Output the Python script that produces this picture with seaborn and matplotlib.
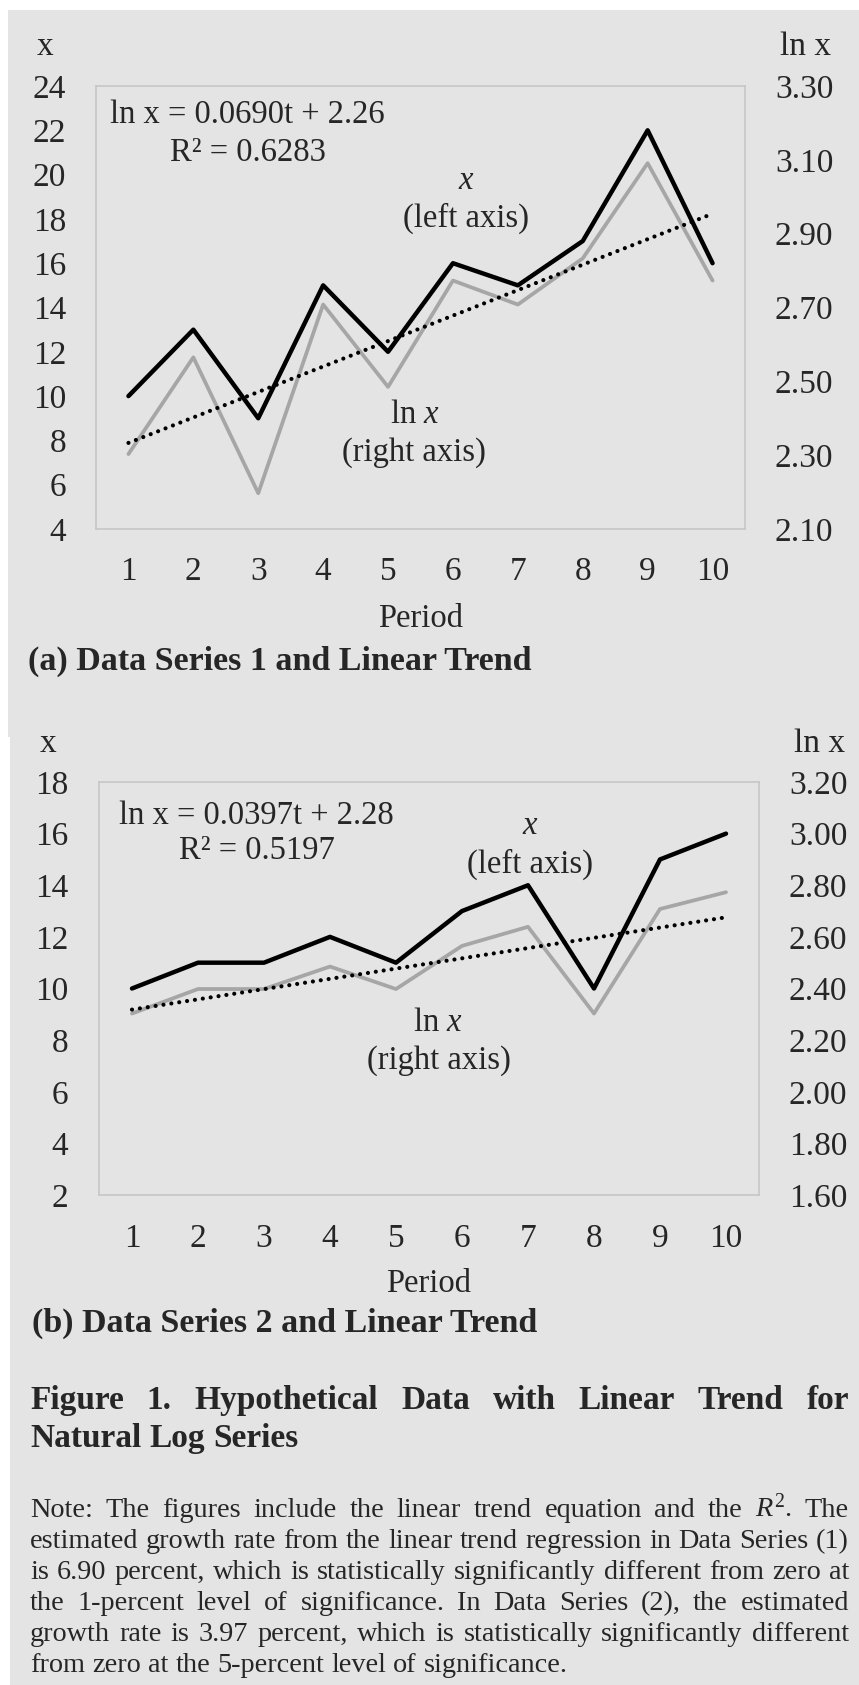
import matplotlib
matplotlib.use("Agg")
import matplotlib.pyplot as plt
import seaborn as sns
import numpy as np
import pandas as pd
from matplotlib.patches import Rectangle

# ---------------- data ----------------
periods = [1, 2, 3, 4, 5, 6, 7, 8, 9, 10]

x_series1 = [10, 13, 9, 15, 12, 16, 15, 17, 22, 16]
lnx_series1 = [2.303, 2.565, 2.197, 2.708, 2.485, 2.773, 2.708, 2.833, 3.091, 2.773]

x_series2 = [10, 11, 11, 12, 11, 13, 14, 10, 15, 16]
lnx_series2 = [2.303, 2.398, 2.398, 2.485, 2.398, 2.565, 2.639, 2.303, 2.708, 2.773]

left_ticks_a = [4, 6, 8, 10, 12, 14, 16, 18, 20, 22, 24]
right_ticks_a = [2.10, 2.30, 2.50, 2.70, 2.90, 3.10, 3.30]
left_ticks_b = [2, 4, 6, 8, 10, 12, 14, 16, 18]
right_ticks_b = [1.60, 1.80, 2.00, 2.20, 2.40, 2.60, 2.80, 3.00, 3.20]

eq_a = ["ln x = 0.0690t + 2.26", "R\u00b2 = 0.6283"]
eq_b = ["ln x = 0.0397t + 2.28", "R\u00b2 = 0.5197"]

title_a = "(a) Data Series 1 and Linear Trend"
title_b = "(b) Data Series 2 and Linear Trend"
fig_title = ["Figure 1. Hypothetical Data with Linear Trend for", "Natural Log Series"]
note_lines = [
    "Note: The figures include the linear trend equation and the $R^2$. The",
    "estimated growth rate from the linear trend regression in Data Series (1)",
    "is 6.90 percent, which is statistically significantly different from zero at",
    "the 1-percent level of significance. In Data Series (2), the estimated",
    "growth rate is 3.97 percent, which is statistically significantly different",
    "from zero at the 5-percent level of significance.",
]

# ---------------- style ----------------
sns.set_style("white")
FONT = "Liberation Serif"
plt.rcParams["font.family"] = [FONT, "DejaVu Serif"]
plt.rcParams["mathtext.fontset"] = "custom"
plt.rcParams["mathtext.rm"] = FONT
plt.rcParams["mathtext.it"] = FONT + ":italic"
plt.rcParams["mathtext.bf"] = FONT + ":bold"

BG = "#e4e4e4"
GREY = "#a6a6a6"
SPINE = "#c6c6c6"
TICK = 24
LBL = 23.5

W, H = 859, 1685
fig = plt.figure(figsize=(W / 100, H / 100), dpi=100, facecolor=BG)

# white margins
fig.patches.append(Rectangle((0, 1 - 10 / H), 1, 10 / H, transform=fig.transFigure,
                             facecolor="white", edgecolor="none", zorder=-5))
fig.patches.append(Rectangle((0, 1 - 737 / H), 8 / W, 737 / H, transform=fig.transFigure,
                             facecolor="white", edgecolor="none", zorder=-5))
fig.patches.append(Rectangle((0, 0), 10 / W, 1 - 737 / H, transform=fig.transFigure,
                             facecolor="white", edgecolor="none", zorder=-5))


def T(x, y, s, **kw):
    return fig.text(x / W, 1 - y / H, s, **kw)


def add_axes_px(l, t, r, b):
    return fig.add_axes([l / W, 1 - b / H, (r - l) / W, (b - t) / H])


def panel(box, xv, lnv, lylim, lticks, rylim, rticks, pad_l, pad_r, pad_x):
    ax = add_axes_px(*box)
    ax.set_facecolor(BG)
    df = pd.DataFrame({"Period": periods, "x": xv, "lnx": lnv})
    sns.lineplot(data=df, x="Period", y="x", ax=ax, color="black", lw=3.2)
    ax2 = ax.twinx()
    sns.lineplot(data=df, x="Period", y="lnx", ax=ax2, color=GREY, lw=2.7)
    sns.regplot(data=df, x="Period", y="lnx", ax=ax2, scatter=False, ci=None, truncate=True,
                line_kws=dict(color="black", lw=3.0, linestyle=(0, (0.01, 1.9)),
                              dash_capstyle="round"))
    ax.set_xlim(0.5, 10.5)
    ax.set_ylim(*lylim)
    ax2.set_ylim(*rylim)
    ax.set_xticks(periods)
    ax.set_xticklabels([str(p) for p in periods])
    ax.set_yticks(lticks)
    ax.set_yticklabels([str(v) for v in lticks])
    ax2.set_yticks(rticks)
    ax2.set_yticklabels([f"{v:.2f}" for v in rticks])
    ax.tick_params(axis="y", length=0, pad=pad_l, labelsize=TICK)
    ax.tick_params(axis="x", length=0, pad=pad_x, labelsize=TICK)
    ax2.tick_params(axis="y", length=0, pad=pad_r, labelsize=TICK)
    for a in (ax, ax2):
        a.set_xlabel("")
        a.set_ylabel("")
        a.grid(False)
    for s in ax.spines.values():
        s.set_color(SPINE)
        s.set_linewidth(1.2)
    for s in ax2.spines.values():
        s.set_visible(False)
    return ax, ax2


panel((96, 86, 745, 529), x_series1, lnx_series1, (4, 24), left_ticks_a,
      (2.10, 3.30), right_ticks_a, 21.5, 21.5, 20)
panel((99, 782, 759, 1195), x_series2, lnx_series2, (2, 18), left_ticks_b,
      (1.60, 3.20), right_ticks_b, 22, 21.5, 20.5)

# ---------------- panel texts ----------------
# panel a
T(45, 47, "x", fontsize=TICK, ha="center", va="center")
T(806, 47, "ln x", fontsize=TICK, ha="center", va="center")
T(110, 115, eq_a[0], fontsize=LBL, ha="left", va="center")
T(248, 153, eq_a[1], fontsize=LBL, ha="center", va="center")
T(466, 181, "$x$", fontsize=LBL, ha="center", va="center")
T(466, 218, "(left axis)", fontsize=LBL, ha="center", va="center")
T(415, 415, "ln $x$", fontsize=LBL, ha="center", va="center")
T(414, 453, "(right axis)", fontsize=LBL, ha="center", va="center")
T(421, 619, "Period", fontsize=LBL, ha="center", va="center")
T(28, 670, title_a, fontsize=24.5, fontweight="bold", ha="left", va="baseline")

# panel b
T(48, 744, "x", fontsize=TICK, ha="center", va="center")
T(820, 744, "ln x", fontsize=TICK, ha="center", va="center")
T(119, 816, eq_b[0], fontsize=LBL, ha="left", va="center")
T(257, 851, eq_b[1], fontsize=LBL, ha="center", va="center")
T(530, 826, "$x$", fontsize=LBL, ha="center", va="center")
T(530, 864, "(left axis)", fontsize=LBL, ha="center", va="center")
T(438, 1023, "ln $x$", fontsize=LBL, ha="center", va="center")
T(439, 1061, "(right axis)", fontsize=LBL, ha="center", va="center")
T(429, 1284, "Period", fontsize=LBL, ha="center", va="center")
T(32, 1332, title_b, fontsize=24.5, fontweight="bold", ha="left", va="baseline")

# ---------------- justified text ----------------
renderer = fig.canvas.get_renderer()
X0, X1 = 30, 849


def natural_width(s, size, weight="normal"):
    t = T(0, 0, s, fontsize=size, fontweight=weight)
    w = t.get_window_extent(renderer).width
    t.remove()
    return w


def justify(line, y_base, size, weight="normal", last=False):
    words = line.split(" ")
    texts = [T(0, y_base, w, fontsize=size, fontweight=weight, ha="left", va="baseline")
             for w in words]
    widths = [t.get_window_extent(renderer).width for t in texts]
    if last or len(words) == 1:
        gap = natural_width("a b", size, weight) - natural_width("ab", size, weight)
    else:
        gap = (X1 - X0 - sum(widths)) / (len(words) - 1)
    x = X0
    for t, w in zip(texts, widths):
        t.set_x(x / W)
        x += w + gap


# figure title
justify(fig_title[0], 1409, 24, "bold")
justify(fig_title[1], 1447, 24, "bold", last=True)

# note: fit the font so that the tightest line fills the width
base = 18.0
widest = max(natural_width(l, base) for l in note_lines[:-1])
note_size = base * (X1 - X0) / widest * 0.995
for i, line in enumerate(note_lines):
    justify(line, 1517 + 31 * i, note_size, last=(i == len(note_lines) - 1))

fig.savefig("out.png", dpi=100, facecolor=BG)
